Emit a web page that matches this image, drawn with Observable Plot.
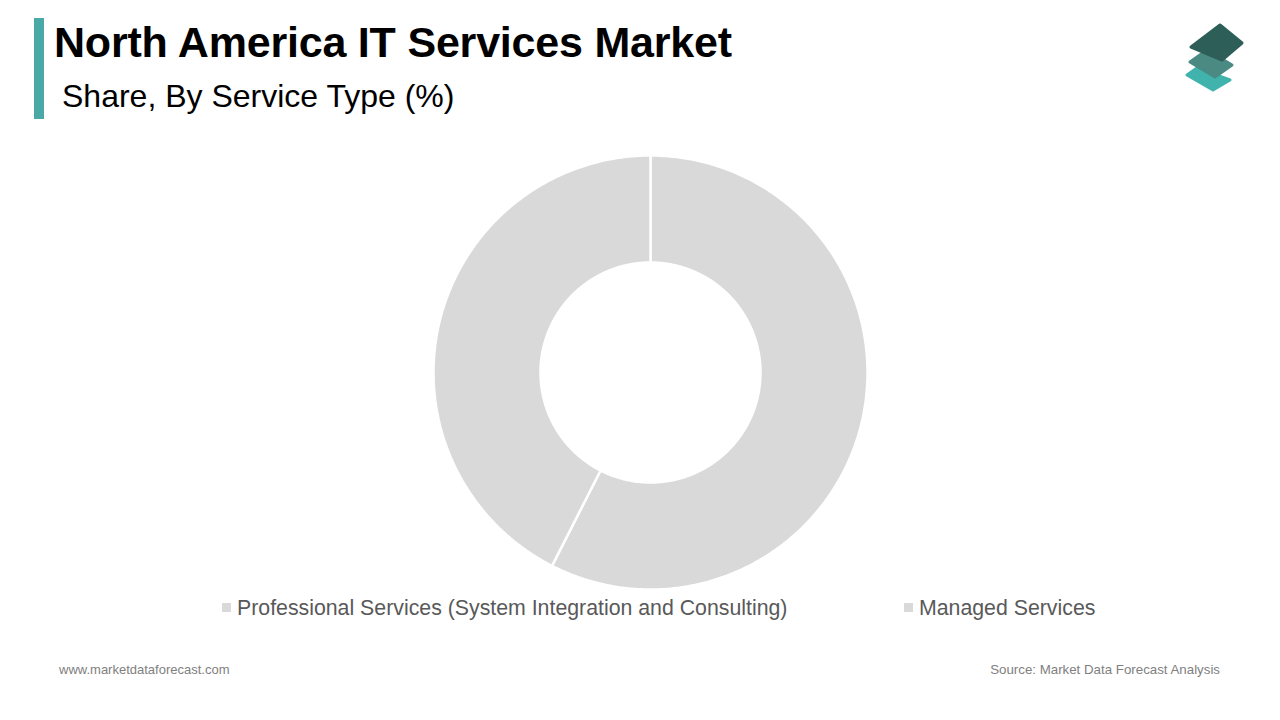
<!DOCTYPE html>
<html>
<head>
<meta charset="utf-8">
<script src="https://cdn.jsdelivr.net/npm/d3@7"></script>
<script src="https://cdn.jsdelivr.net/npm/@observablehq/plot@0.6"></script>
<style>
  html, body { margin: 0; padding: 0; background: #fff; }
  #page { position: relative; width: 1280px; height: 720px; overflow: hidden; font-family: "Liberation Sans", Arial, sans-serif; }
  #bar { position: absolute; left: 34px; top: 18px; width: 10px; height: 101px; background: #4aa9a6; }
  #title { position: absolute; left: 54px; top: 18px; font-size: 43px; font-weight: bold; color: #000; white-space: nowrap; letter-spacing: -0.2px; }
  #subtitle { position: absolute; left: 62px; top: 78px; font-size: 32px; color: #000; white-space: nowrap; }
  #chart { position: absolute; left: 430px; top: 152px; }
  #legend { position: absolute; top: 596px; left: 0; width: 1280px; height: 26px; font-size: 21.3px; color: #595959; }
  .item { position: absolute; white-space: nowrap; }
  .sw { display: inline-block; width: 9px; height: 9px; margin-right: 6px; vertical-align: 3px; }
  #foot-l { position: absolute; left: 59px; top: 662px; font-size: 13px; color: #808080; }
  #foot-r { position: absolute; right: 60px; top: 662px; font-size: 13.3px; color: #808080; }
  #logo { position: absolute; left: 1170px; top: 15px; }
</style>
</head>
<body>
<div id="page">
  <div id="bar"></div>
  <div id="title">North America IT Services Market</div>
  <div id="subtitle">Share, By Service Type (%)</div>
  <svg id="logo" width="80" height="85" viewBox="0 0 80 85">
    <polygon points="17,60 27,53 60,65 43,75" fill="#40b3ad" stroke="#40b3ad" stroke-width="3" stroke-linejoin="round"/>
    <polygon points="20,47 37,35 62,50 45,62" fill="#4a8a83" stroke="#4a8a83" stroke-width="3" stroke-linejoin="round"/>
    <polygon points="21,32 50,10 72,28 52,45" fill="#2e5e58" stroke="#2e5e58" stroke-width="3" stroke-linejoin="round"/>
  </svg>
  <div id="chart"></div>
  <div id="legend"></div>
  <div id="foot-l">www.marketdataforecast.com</div>
  <div id="foot-r">Source: Market Data Forecast Analysis</div>
</div>
<script>
// Data
const categories = ["Professional Services (System Integration and Consulting)", "Managed Services"];
const shares = [57.5, 42.5];
const colors = ["#d9d9d9", "#d9d9d9"];
const legendX = [222, 904];

// Geometry derived from data (angles clockwise from 12 o'clock)
const outerR = 1;
const innerR = 110 / 217;
const pie = d3.pie().sort(null).value(d => d.share);
const arcs = pie(categories.map((name, i) => ({ name, share: shares[i] })));
const pts = [];
for (const a of arcs) {
  const n = 240;
  const ring = [];
  for (let k = 0; k <= n; k++) {
    const t = a.startAngle + (a.endAngle - a.startAngle) * k / n;
    ring.push([outerR * Math.sin(t), outerR * Math.cos(t)]);
  }
  for (let k = n; k >= 0; k--) {
    const t = a.startAngle + (a.endAngle - a.startAngle) * k / n;
    ring.push([innerR * Math.sin(t), innerR * Math.cos(t)]);
  }
  ring.push(ring[0]);
  for (const [x, y] of ring) pts.push({ name: a.data.name, x, y });
}

const D = 220 / 217;
const chart = Plot.plot({
  width: 440,
  height: 440,
  margin: 0,
  x: { domain: [-D, D], axis: null },
  y: { domain: [-D, D], axis: null },
  color: { domain: categories, range: colors },
  marks: [
    Plot.line(pts, { x: "x", y: "y", z: "name", fill: "name", stroke: "white", strokeWidth: 2.5, strokeLinejoin: "miter", curve: "linear" })
  ]
});
document.getElementById("chart").appendChild(chart);

// Legend
const legend = document.getElementById("legend");
categories.forEach((c, i) => {
  const it = document.createElement("div");
  it.className = "item";
  it.style.left = legendX[i] + "px";
  it.innerHTML = `<span class="sw" style="background:${colors[i]}"></span>${c}`;
  legend.appendChild(it);
});
</script>
</body>
</html>
